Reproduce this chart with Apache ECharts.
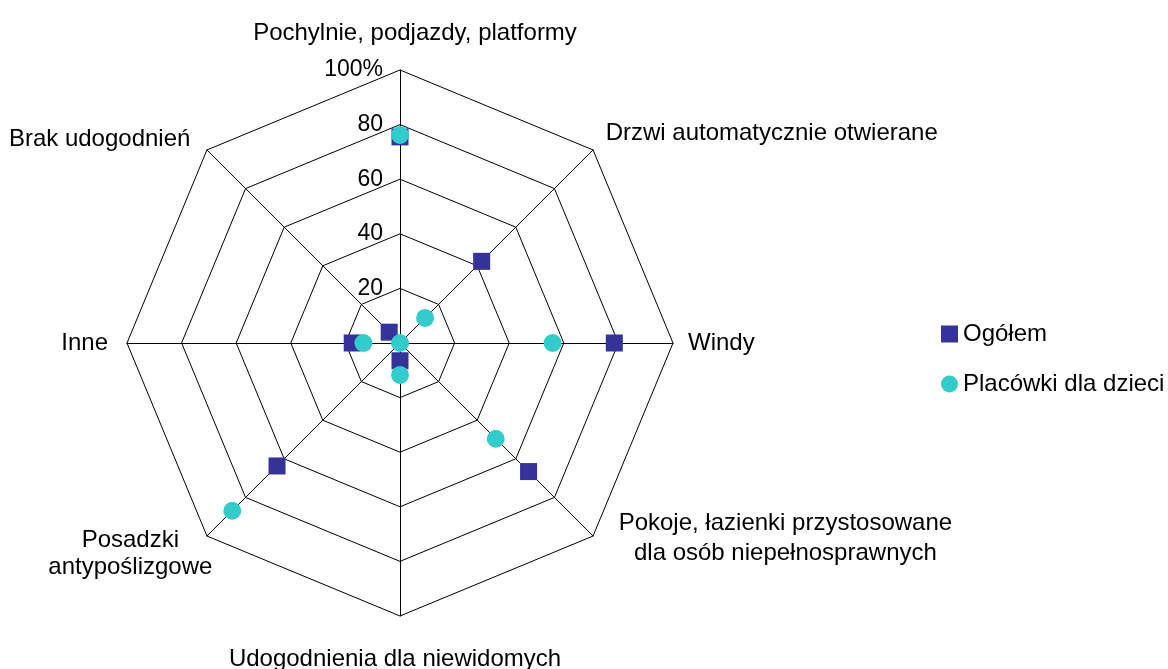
<!DOCTYPE html>
<html>
	<head>
		<meta charset="utf-8">
		<title>Udogodnienia</title>
		<style>
			html, body { margin: 0; padding: 0; background: #fff; }
			#chart { width: 1168px; height: 669px; }
		</style>
	</head>
	<body>
		<div id="chart"></div>
		<script src="https://cdn.jsdelivr.net/npm/echarts@6/dist/echarts.min.js"></script>
		<script>
			// kolejność osi: od góry, przeciwnie do ruchu wskazówek zegara (tak rysuje ECharts)
			var categories = [
				'Pochylnie, podjazdy, platformy',
				'Brak udogodnień',
				'Inne',
				'Posadzki\nantypoślizgowe',
				'Udogodnienia dla niewidomych',
				'Pokoje, łazienki przystosowane\ndla osób niepełnosprawnych',
				'Windy',
				'Drzwi automatycznie otwierane'
			];
			var ogolem = [75.5, 5.6, 17.5, 63.7, 6.5, 66.6, 78.5, 42.3];
			var placowki = [76.2, 0, 13.4, 86.9, 11.7, 49.6, 55.9, 13];
			var seriesNames = ['Ogółem', 'Placówki dla dzieci'];
			var tickLabels = ['', '20', '40', '60', '80', '100%'];

			var font = '"Liberation Sans", Arial, sans-serif';
			var fs = 24;

			var indicators = categories.map(function(n, i) {
				var ind = { name: n, min: 0, max: 100 };
				if (i === 0) {
					ind.axisLabel = { show: true };
				}
				return ind;
			});

			// drobne przesunięcia podpisów osi (styl rich dla wybranych nazw)
			var nameRich = {};
			nameRich[categories[0]] = 't';
			nameRich[categories[1]] = 'k';
			nameRich[categories[2]] = 'n';
			nameRich[categories[3]] = 'c';
			nameRich[categories[4]] = 'b';
			nameRich[categories[5]] = 'p';
			nameRich[categories[7]] = 'd';

			function richStyle(pad, lh, w) {
				var s = { align: 'center', fontSize: fs, fontFamily: font, color: '#000', padding: pad };
				if (lh) s.lineHeight = lh;
				if (w) s.width = w;
				return s;
			}

			var option = {
				animation: false,
				backgroundColor: '#fff',
				textStyle: { fontFamily: font },
				legend: {
					orient: 'vertical',
					left: 941,
					top: 322,
					padding: 0,
					itemWidth: 17,
					itemHeight: 17,
					itemGap: 26,
					textStyle: { color: '#000', fontSize: fs, fontFamily: font },
					data: [
						{ name: seriesNames[0], icon: 'rect' },
						{ name: seriesNames[1], icon: 'circle' }
					]
				},
				radar: {
					center: [400, 343],
					radius: 273,
					startAngle: 90,
					shape: 'polygon',
					splitNumber: 5,
					nameGap: 15,
					indicator: indicators,
					axisName: {
						color: '#000',
						fontSize: fs,
						fontFamily: font,
						formatter: function(name) {
							var key = nameRich[name];
							if (!key) return name;
							return name.split('\n').map(function(l) { return '{' + key + '|' + l + '}'; }).join('\n');
						},
						rich: {
							t: richStyle([0, 0, 10, 30]),
							b: richStyle([16, 10, 0, 0]),
							p: richStyle([0, 0, 16, 15], 30),
							c: richStyle([14, 0, 0, 0], 27, 132),
							d: richStyle([0, 0, 12, 2], 26),
							k: richStyle([0, 6, 0, 0], 26),
							n: richStyle([0, 4, 0, 0], 26)
						}
					},
					axisLine: { lineStyle: { color: '#000', width: 1 } },
					splitLine: { lineStyle: { color: '#000', width: 1 } },
					splitArea: { show: false },
					axisTick: { show: false },
					axisLabel: {
						show: false,
						color: '#000',
						fontSize: 23,
						fontFamily: font,
						margin: 17,
						padding: [5, 0, 0, 0],
						formatter: function(v) {
							return tickLabels[Math.round(v / 20)];
						}
					}
				},
				series: [{
					type: 'radar',
					lineStyle: { width: 0, opacity: 0 },
					data: [
						{
							name: seriesNames[0],
							value: ogolem,
							symbol: 'rect',
							symbolSize: 17,
							itemStyle: { color: '#333399', opacity: 1 }
						},
						{
							name: seriesNames[1],
							value: placowki,
							symbol: 'circle',
							symbolSize: 18,
							itemStyle: { color: '#33CCCC', opacity: 1 }
						}
					]
				}]
			};

			var chart = echarts.init(document.getElementById('chart'));
			chart.setOption(option);
		</script>
	</body>
</html>
